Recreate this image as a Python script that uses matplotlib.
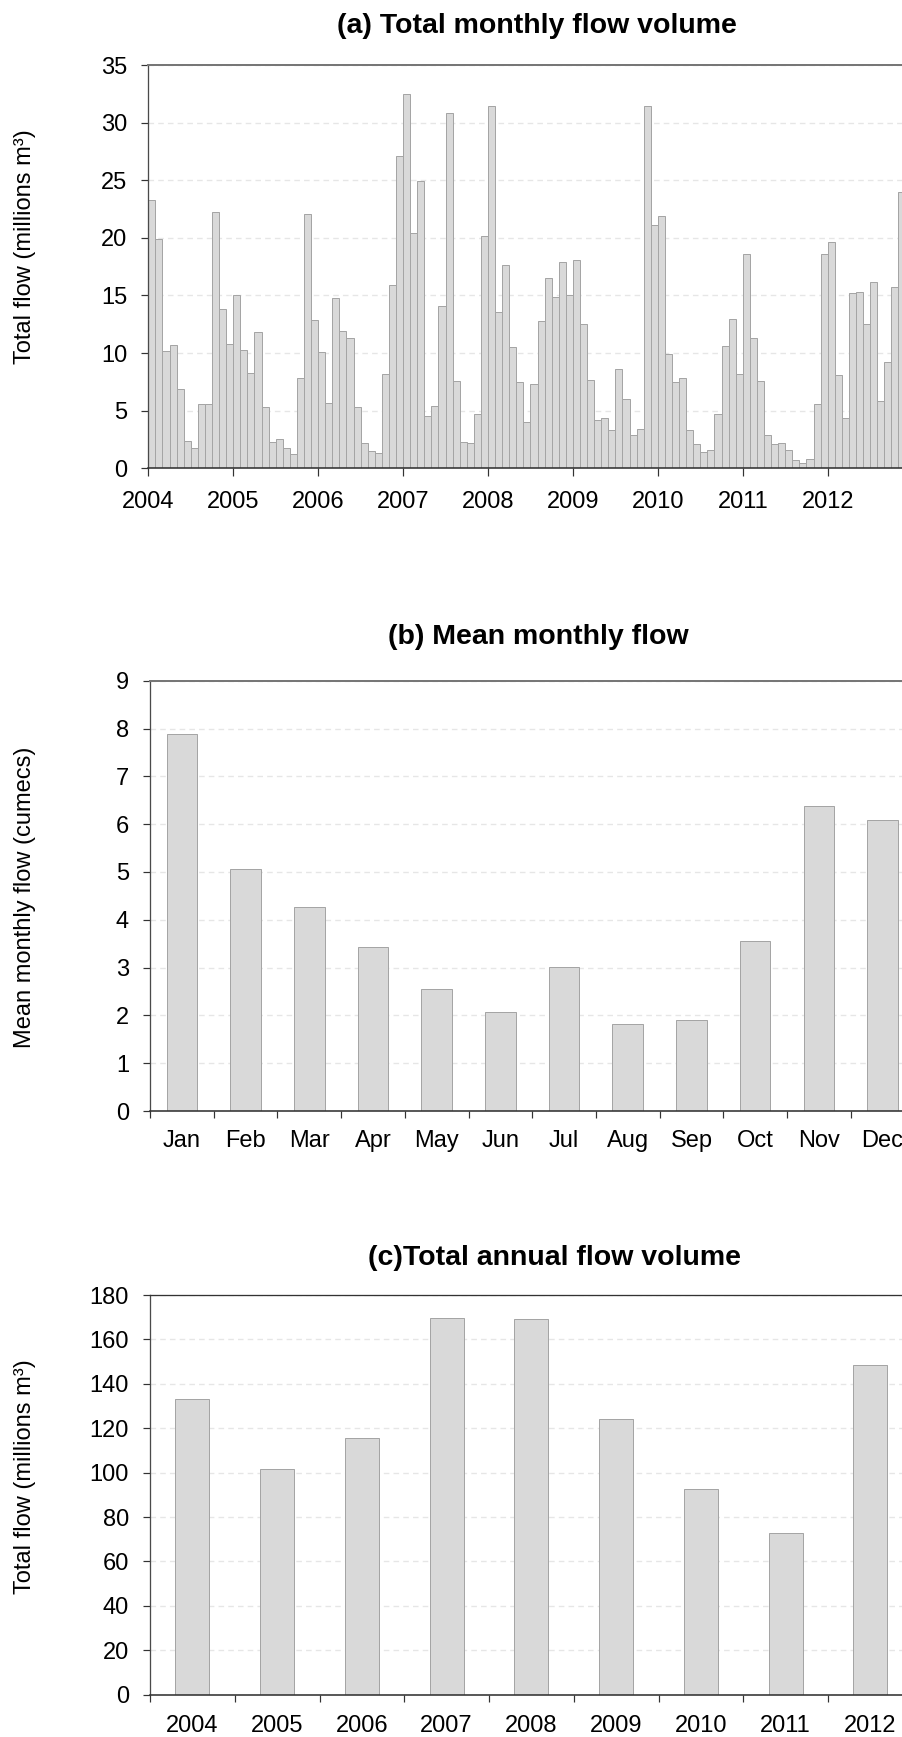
import numpy as np
import matplotlib
matplotlib.use("Agg")
import matplotlib.pyplot as plt
from matplotlib.ticker import MultipleLocator, FixedLocator, NullFormatter

plt.rcParams['font.family'] = ['Liberation Sans', 'DejaVu Sans']

# ---- data -------------------------------------------------------------
years = [2004, 2005, 2006, 2007, 2008, 2009, 2010, 2011, 2012]

# total monthly flow volume (millions m3), Jan..Dec for each year
flow_2004 = [23.3, 19.9, 10.2, 10.7, 6.9, 2.4, 1.8, 5.6, 5.6, 22.2, 13.8, 10.8]
flow_2005 = [15.0, 10.3, 8.3, 11.8, 5.3, 2.3, 2.5, 1.8, 1.2, 7.8, 22.1, 12.9]
flow_2006 = [10.1, 5.7, 14.8, 11.9, 11.3, 5.3, 2.2, 1.5, 1.3, 8.2, 15.9, 27.1]
flow_2007 = [32.5, 20.4, 24.9, 4.5, 5.4, 14.1, 30.8, 7.6, 2.3, 2.2, 4.7, 20.2]
flow_2008 = [31.4, 13.6, 17.6, 10.5, 7.5, 4.0, 7.3, 12.8, 16.5, 14.9, 17.9, 15.0]
flow_2009 = [18.1, 12.5, 7.7, 4.2, 4.4, 3.3, 8.6, 6.0, 2.9, 3.4, 31.4, 21.1]
flow_2010 = [21.9, 9.9, 7.5, 7.8, 3.3, 2.1, 1.4, 1.6, 4.7, 10.6, 13.0, 8.2]
flow_2011 = [18.6, 11.3, 7.6, 2.9, 2.1, 2.2, 1.6, 0.7, 0.5, 0.8, 5.6, 18.6]
flow_2012 = [19.6, 8.1, 4.4, 15.2, 15.3, 12.5, 16.2, 5.8, 9.2, 15.7, 24.0, 2.5]

month_names = ['Jan', 'Feb', 'Mar', 'Apr', 'May', 'Jun',
               'Jul', 'Aug', 'Sep', 'Oct', 'Nov', 'Dec']
# mean monthly flow (cumecs)
mean_monthly_flow = [7.89, 5.06, 4.27, 3.42, 2.55, 2.07, 3.01, 1.81, 1.90, 3.56, 6.37, 6.09]

# total annual flow volume (millions m3)
annual_flow = [133.3, 101.8, 115.7, 169.8, 169.3, 124.0, 92.5, 72.7, 148.5]

monthly_flow = (flow_2004 + flow_2005 + flow_2006 + flow_2007 + flow_2008 +
                flow_2009 + flow_2010 + flow_2011 + flow_2012)

# ---- figure ------------------------------------------------------------
W, H = 902, 1737
fig = plt.figure(figsize=(W / 100, H / 100), dpi=100)
fig.patch.set_facecolor('white')


def px_axes(left, top, right, bottom):
    return fig.add_axes([left / W, 1 - bottom / H, (right - left) / W, (bottom - top) / H])


PX = 72 / 100  # points per pixel
BAR_FACE = '#d9d9d9'
BAR_EDGE = '#a5a5a5'
GRID = '#e6e6e6'
TICK_FS = 17
LABEL_FS = 17
TITLE_FS = 20.5


def style(ax, ymax, ystep, top_color='#777777', top_lw=2.0):
    ax.set_ylim(0, ymax)
    ax.yaxis.set_major_locator(MultipleLocator(ystep))
    ax.grid(axis='y', color=GRID, linestyle=(0, (4, 3)), linewidth=1.0)
    ax.set_axisbelow(True)
    ax.spines['right'].set_visible(False)
    ax.spines['top'].set_color(top_color)
    ax.spines['top'].set_linewidth(top_lw * PX)
    ax.spines['left'].set_color('#4a4a4a')
    ax.spines['left'].set_linewidth(1.3 * PX)
    ax.spines['bottom'].set_color('#333333')
    ax.spines['bottom'].set_linewidth(1.6 * PX)
    ax.tick_params(axis='y', which='major', direction='out', length=7 * PX,
                   width=1.2 * PX, color='#333333', labelsize=TICK_FS,
                   pad=14 * PX, labelcolor='black')


# (a) total monthly flow volume
ax1 = px_axes(148.3, 65, 912.6, 468.3)
ax1.bar(np.arange(len(monthly_flow)), monthly_flow, width=1.0, align='edge',
        color=BAR_FACE, edgecolor=BAR_EDGE, linewidth=1.0 * PX, zorder=2)
ax1.set_xlim(0, len(monthly_flow))
style(ax1, 35, 5)
ax1.xaxis.set_major_locator(FixedLocator([12 * i for i in range(len(years))]))
ax1.set_xticklabels([str(y) for y in years])
ax1.tick_params(axis='x', direction='out', length=8 * PX, width=1.2 * PX,
                color='#333333', labelsize=TICK_FS, pad=15 * PX)

# (b) mean monthly flow
ax2 = px_axes(150, 680.7, 914.4, 1111)
ax2.bar(np.arange(len(month_names)), mean_monthly_flow, width=0.48,
        color=BAR_FACE, edgecolor=BAR_EDGE, linewidth=1.0 * PX, zorder=2)
ax2.set_xlim(-0.5, len(month_names) - 0.5)
style(ax2, 9, 1)
ax2.set_xticks(np.arange(len(month_names)))
ax2.set_xticklabels(month_names)
ax2.xaxis.set_minor_locator(FixedLocator(np.arange(len(month_names) + 1) - 0.5))
ax2.xaxis.set_minor_formatter(NullFormatter())
ax2.tick_params(axis='x', which='major', length=0, labelsize=TICK_FS, pad=19 * PX)
ax2.tick_params(axis='x', which='minor', direction='out', length=7 * PX,
                width=1.2 * PX, color='#333333')

# (c) total annual flow volume
ax3 = px_axes(150, 1295, 912.8, 1694.7)
ax3.bar(np.arange(len(years)), annual_flow, width=0.40,
        color=BAR_FACE, edgecolor=BAR_EDGE, linewidth=1.0 * PX, zorder=2)
ax3.set_xlim(-0.5, len(years) - 0.5)
style(ax3, 180, 20, top_color='#333333', top_lw=1.3)
ax3.set_xticks(np.arange(len(years)))
ax3.set_xticklabels([str(y) for y in years])
ax3.xaxis.set_minor_locator(FixedLocator(np.arange(len(years) + 1) - 0.5))
ax3.xaxis.set_minor_formatter(NullFormatter())
ax3.tick_params(axis='x', which='major', length=0, labelsize=TICK_FS, pad=20 * PX)
ax3.tick_params(axis='x', which='minor', direction='out', length=7 * PX,
                width=1.2 * PX, color='#333333')

# titles and axis labels
def fig_text(x, y, s, **kw):
    fig.text(x / W, 1 - y / H, s, ha='center', va='center', **kw)


fig_text(537, 26, '(a) Total monthly flow volume', fontsize=TITLE_FS, fontweight='bold')
fig_text(538, 637, '(b) Mean monthly flow', fontsize=TITLE_FS, fontweight='bold')
fig_text(554, 1258, '(c)Total annual flow volume', fontsize=TITLE_FS, fontweight='bold')

fig_text(25, 247, 'Total flow (millions m³)', fontsize=LABEL_FS, rotation=90)
fig_text(25, 897, 'Mean monthly flow (cumecs)', fontsize=LABEL_FS, rotation=90)
fig_text(25, 1477, 'Total flow (millions m³)', fontsize=LABEL_FS, rotation=90)

fig.savefig('out.png', dpi=100)
